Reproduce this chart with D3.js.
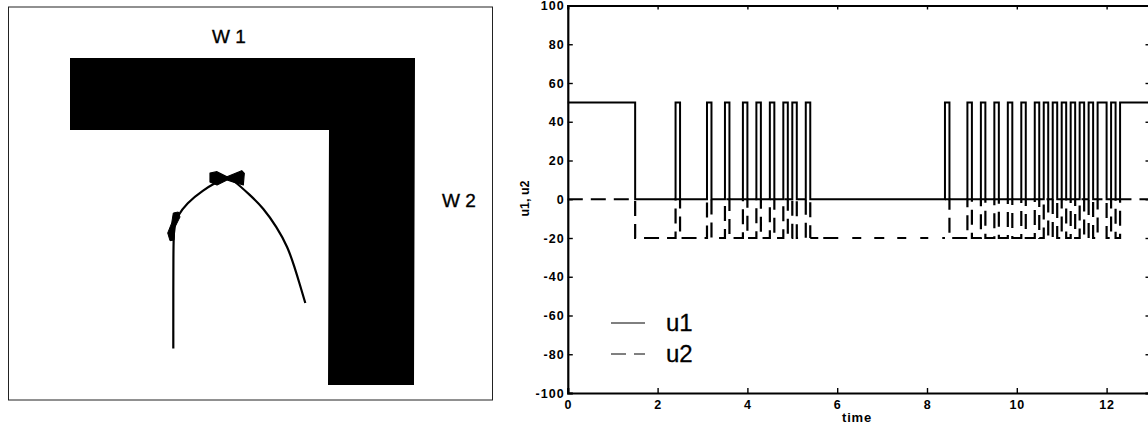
<!DOCTYPE html>
<html><head><meta charset="utf-8">
<style>
html,body{margin:0;padding:0;background:#fff}
svg{display:block;font-family:"Liberation Sans",Arial,sans-serif}
</style>
<script src="https://cdnjs.cloudflare.com/ajax/libs/d3/7.8.5/d3.min.js"></script>
</head><body><svg id="c" width="1148" height="425"></svg>
<script>
// Left panel, world units
const wallX=[6.1,40.6,40.5,31.9,32.0,6.1];
const wallY=[34.2,34.2,1.5,1.5,27.0,27.0];
const pathX=[16.43,16.43,16.43,16.5,16.77,17.77,19.43,20.77,21.77,22.43,24.1,25.43,26.77,27.88,28.55,29.1,29.63,29.63];
const pathY=[5.15,5.15,15.7,17.3,18.3,19.7,21.0,21.8,22.3,22.0,20.5,19.2,17.3,15.3,13.3,11.5,9.7,9.7];
const bowX=[20.1,20.8,21.8,23.27,23.53,23.43,22.4,21.8,20.8,20.1];
const bowY=[22.7,22.83,22.33,22.93,22.67,21.5,21.8,22,21.5,21.8];
const blobX=[15.87,16.27,16.43,16.93,17.1,16.6,16.5,16.1];
const blobY=[16.7,17.7,18.7,18.8,18.3,17.3,16,15.93];
// Right panel
const stepTimes=[0,1.5,2.4,2.5,3.1,3.2,3.5,3.6,3.9,4.0,4.2,4.3,4.5,4.6,4.8,4.9,5.0,5.1,5.3,5.4,
 8.4,8.5,8.9,9.0,9.2,9.3,9.5,9.6,9.8,9.9,10.1,10.2,10.4,10.5,10.6,10.7,10.8,10.9,11.0,11.1,11.2,11.3,11.4,11.5,11.6,11.7,11.8,12.0,12.1,12.2,12.3,13];
const u1=[50,0,50,0,50,0,50,0,50,0,50,0,50,0,50,0,50,0,50,0,
 50,0,50,0,50,0,50,0,50,0,50,0,50,0,50,0,50,0,50,0,50,0,50,0,50,0,50,0,50,0,50,50];
const u2=[0,-20,0,-20,0,-20,0,-20,0,-20,0,-20,0,-20,0,-20,0,-20,0,-20,
 0,-20,0,-20,0,-20,0,-20,0,-20,0,-20,0,-20,0,-20,0,-20,0,-20,0,-20,0,-20,0,-20,0,-20,0,-20,0,0];
const xTicks=[0,2,4,6,8,10,12];
const yTicks=[100,80,60,40,20,0,-20,-40,-60,-80,-100];
const seriesNames=["u1","u2"];

const svg=d3.select("#c");
// ---- left
const wx=d3.scaleLinear().domain([0,48.4]).range([9,493]);
const wy=d3.scaleLinear().domain([0,39.3]).range([400,7]);
const zip=(a,b)=>a.map((v,i)=>[v,b[i]]);
const ln=d3.line().x(d=>wx(d[0])).y(d=>wy(d[1]));
svg.append("rect").attr("x",8.5).attr("y",7).attr("width",484).attr("height",393)
  .attr("fill","#fff").attr("stroke","#222").attr("stroke-width",1);
svg.append("path").attr("d",ln(zip(wallX,wallY))+"Z").attr("fill","#000");
svg.append("path").attr("d",ln.curve(d3.curveBasis)(zip(pathX,pathY))).attr("fill","none").attr("stroke","#000").attr("stroke-width",2.2);
ln.curve(d3.curveLinear);
svg.append("path").attr("d",ln(zip(bowX,bowY))+"Z").attr("fill","#000").attr("stroke","#000").attr("stroke-width",1.2).attr("stroke-linejoin","round");
svg.append("path").attr("d",ln(zip(blobX,blobY))+"Z").attr("fill","#000").attr("stroke","#000").attr("stroke-width",1).attr("stroke-linejoin","round");
const lab=(t,x,y)=>svg.append("text").attr("x",x).attr("y",y).attr("font-size",19).attr("stroke","#000").attr("stroke-width",0.35).text(t);
lab("W 1",212,43);
lab("W 2",442,207);

// ---- right
const x=d3.scaleLinear().domain([0,13]).range([567.8,1151.5]);
const y=d3.scaleLinear().domain([-100,100]).range([393,5.5]);
const plainFmt=d=>String(d);
const gx=svg.append("g").attr("transform","translate(0,393)")
  .call(d3.axisBottom(x).tickValues(xTicks).tickSize(-5).tickPadding(7).tickFormat(plainFmt));
const gxt=svg.append("g").attr("transform","translate(0,5.5)")
  .call(d3.axisTop(x).tickValues(xTicks).tickSize(-4).tickFormat(""));
const gy=svg.append("g").attr("transform","translate(567.8,0)")
  .call(d3.axisLeft(y).tickValues(yTicks).tickSize(-5).tickPadding(3).tickFormat(plainFmt));
const gyr=svg.append("g").attr("transform","translate(1151.5,0)")
  .call(d3.axisRight(y).tickValues(yTicks).tickSize(-6).tickFormat(""));
[gx,gxt,gy,gyr].forEach(g=>{
  g.attr("font-family",null).attr("font-size",null);
  g.selectAll(".domain").attr("stroke","#000").attr("stroke-width",2.2);
  g.selectAll(".tick line").attr("stroke","#000").attr("stroke-width",1.4);
});
gx.selectAll("text").attr("font-size",12.5).attr("font-weight",700).attr("letter-spacing",0.8).attr("fill","#000");
gy.selectAll("text").attr("font-size",12.5).attr("font-weight",700).attr("letter-spacing",1.1).attr("fill","#000");
gy.selectAll(".tick").filter(d=>d===100).select("text").attr("dy","0.3em");

function stepPts(vals,a,b){const o=[];for(let i=a;i<=b;i++){if(i>a)o.push([stepTimes[i],vals[i-1]]);o.push([stepTimes[i],vals[i]]);}return o;}
const plain=d3.line().x(d=>x(d[0])).y(d=>y(d[1]));
const quietStart=stepTimes.indexOf(5.4), quietEnd=stepTimes.indexOf(8.4);
const u2Parts=[[0,quietStart,"15,8"],[quietStart,quietEnd-0,"8,5,15,14,9,13,10,13,9,14,8,14"],[quietEnd,stepTimes.length-1,"15,8"]];
u2Parts.forEach(([a,b,da])=>{
  // the middle part stops short of the rise at its end, which the next part draws
  const pts=stepPts(u2,a,b);
  if(a===quietStart) pts.pop();
  svg.append("path").attr("d",plain(pts)).attr("fill","none").attr("stroke","#000").attr("stroke-width",2.2).attr("stroke-dasharray",da);
});
svg.append("path").attr("d",plain(stepPts(u1,0,stepTimes.length-1))).attr("fill","none").attr("stroke","#000").attr("stroke-width",2);

// legend
const legY=[323,354], dash=[null,"15,8"];
seriesNames.forEach((n,i)=>{
  svg.append("line").attr("x1",611).attr("x2",645).attr("y1",legY[i]).attr("y2",legY[i]).attr("stroke","#000").attr("stroke-width",1).attr("stroke-dasharray",dash[i]);
  svg.append("text").attr("x",666).attr("y",legY[i]+8).attr("font-size",24).attr("stroke","#000").attr("stroke-width",0.3).text(n);
});
svg.append("text").attr("x",857).attr("y",422).attr("text-anchor","middle").attr("font-size",13).attr("font-weight",700).attr("letter-spacing",0.8).text("time");
svg.append("text").attr("transform","translate(529,198.5) rotate(-90)").attr("text-anchor","middle").attr("font-size",12.5).attr("font-weight",700).text("u1, u2");
</script></body></html>
